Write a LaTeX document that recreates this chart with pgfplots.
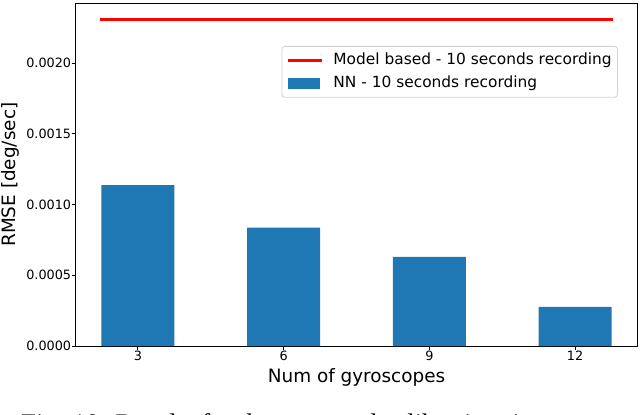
\documentclass[border=0pt]{standalone}
\usepackage{fontspec}
\setmainfont{DejaVu Sans}
\newfontfamily\capfont{Liberation Serif}
\usepackage{pgfplots}
\pgfplotsset{compat=1.18}
\definecolor{tabblue}{HTML}{1F77B4}

\begin{document}
\begin{tikzpicture}
\begin{axis}[
    name=ax,
    scale only axis,
    width=280.5pt, height=171.35pt,
    xmin=-0.425, xmax=3.425,
    ymin=0, ymax=0.0024245,
    xtick={0,1,2,3}, xticklabels={3,6,9,12},
    ytick={0,0.0005,0.001,0.0015,0.002},
    scaled y ticks=false,
    /pgf/number format/assume math mode=true,
    yticklabel style={/pgf/number format/fixed, /pgf/number format/fixed zerofill,
        /pgf/number format/precision=4, anchor=east},
    tick align=outside, xtick pos=bottom, ytick pos=left,
    major tick length=2.24pt,
    tick style={line width=0.5pt, black},
    axis line style={line width=0.5pt},
    tick label style={font=\fontsize{6.4}{7.5}\selectfont, inner sep=0pt},
    xticklabel style={anchor=north},
    xlabel={Num of gyroscopes},
    xlabel style={at={(axis description cs:0.5,0)}, anchor=base, yshift=-18.35pt,
        font=\fontsize{9.2}{11}\selectfont, inner sep=0pt},
    ylabel={RMSE [deg/sec]},
    ylabel style={at={(axis description cs:-0.1087,0.5)}, anchor=base,
        font=\fontsize{9.2}{11}\selectfont, inner sep=0pt},
    legend cell align=left,
    legend style={at={(0.966,0.8755)}, anchor=north east,
        draw=black!18, fill=white, rounded corners=1.5pt, line width=0.4pt,
        inner xsep=2.9pt, inner ysep=3.3pt, row sep=3.85pt, column sep=5.65pt,
        nodes={inner sep=0pt, text height=5.9pt, text depth=1.6pt},
        font=\fontsize{7.7}{9}\selectfont},
]
% model based reference (constant)
\addplot[red, line width=1.5pt, line cap=rect,
    legend image code/.code={\draw[red, line width=1.5pt, line cap=rect] (0.75pt,0pt) -- (16.45pt,0pt);}]
    coordinates {(-0.25,0.00231) (3.25,0.00231)};
\addlegendentry{Model based - 10 seconds recording}

% NN results
\addplot[ybar, bar width=0.5, bar shift=0pt, fill=tabblue, draw=none,
    legend image code/.code={\fill[tabblue, sharp corners] (0pt,-2.68pt) rectangle (16.35pt,2.68pt);}]
    coordinates {(0,0.001139) (1,0.000837) (2,0.000630) (3,0.000276)};
\addlegendentry{NN - 10 seconds recording}
\end{axis}

\node[anchor=base west, inner sep=0pt, font=\capfont\fontsize{13.4}{16}\selectfont]
    at ([xshift=-27.65pt,yshift=-43pt]ax.south west)
    {Fig. 10: Results for the proposed calibration time};

\pgfresetboundingbox
\path[use as bounding box] ([xshift=-38pt,yshift=-34pt]ax.south west)
    rectangle ([xshift=282pt,yshift=173pt]ax.south west);
\end{tikzpicture}
\end{document}
